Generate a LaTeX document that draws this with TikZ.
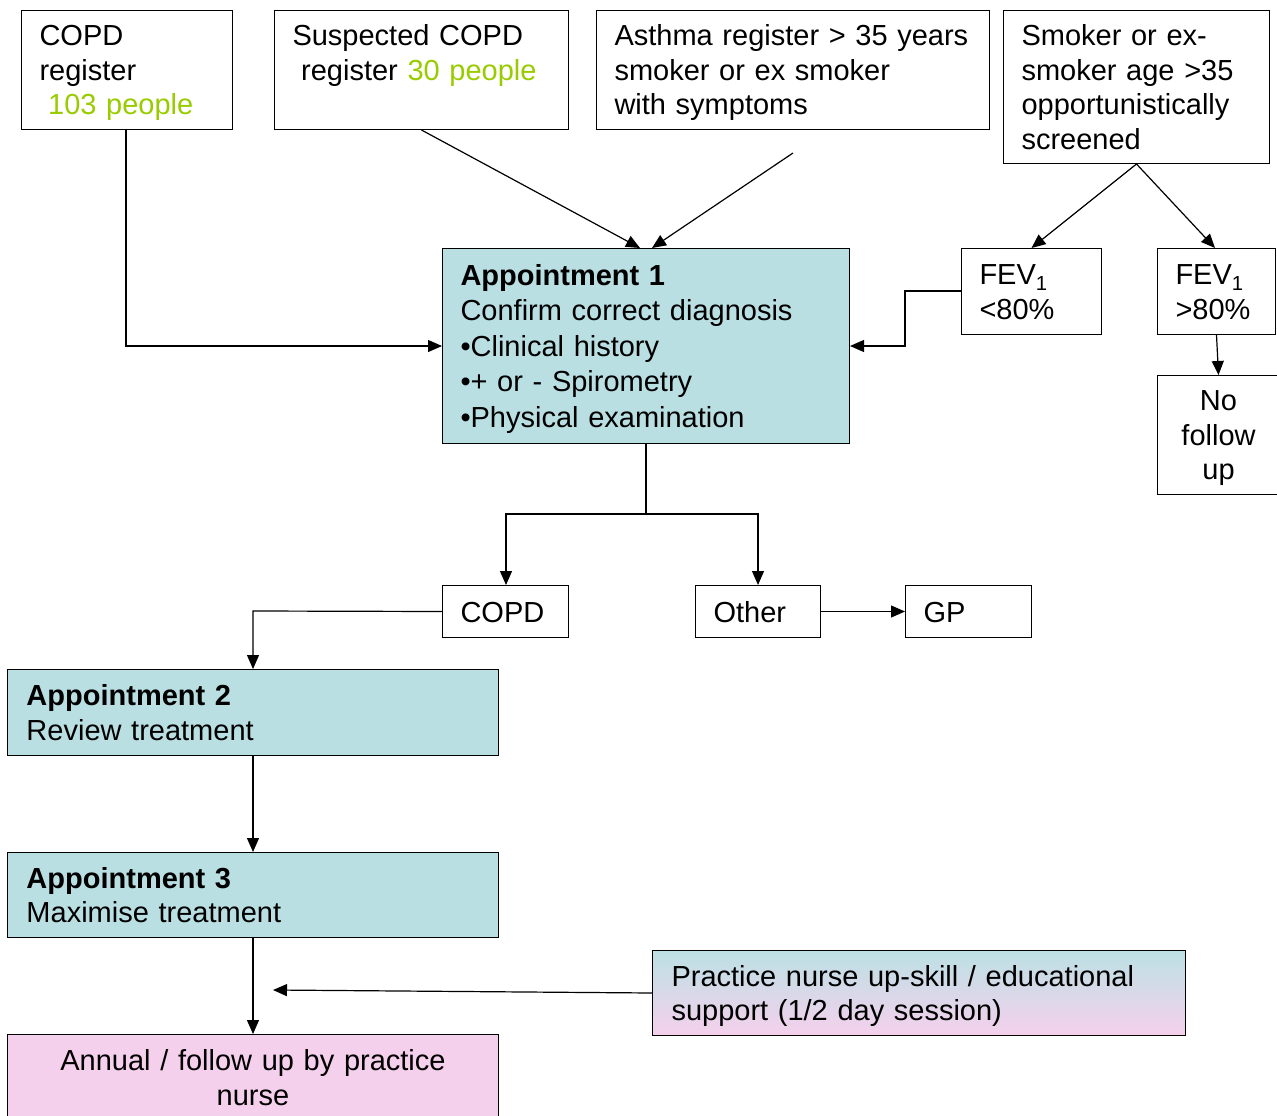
\documentclass[tikz,border=0pt]{standalone}
\usepackage{fontspec}
\setmainfont{Liberation Sans}
\usetikzlibrary{arrows.meta}
\definecolor{tealfill}{RGB}{185,223,227}
\definecolor{pinkfill}{RGB}{245,208,236}
\definecolor{numgreen}{RGB}{153,204,0}
\tikzset{
  box/.style={draw, line width=1pt, inner xsep=18pt, inner ysep=0pt, anchor=north west, align=left,
    font=\fontsize{29}{34.5}\selectfont,
    execute at begin node={\rule{0pt}{27pt}},
    execute at end node={\rule[-6pt]{0pt}{6pt}}},
  cbox/.style={box, align=center},
  conn/.style={line width=1.2pt, -{Triangle[length=14pt,width=12pt]}},
}
\begin{document}
\begin{tikzpicture}[x=1pt,y=-1pt]
\useasboundingbox (0,0) rectangle (1277,1116);
% top row
\node[box, text width=175pt, minimum height=119pt] (b1) at (21,10) {COPD\\register\\ \hspace*{0.3em}\textcolor{numgreen}{103 people}};
\node[box, text width=258pt, minimum height=119pt] (b2) at (274,10) {Suspected COPD\\ \hspace*{0.3em}register \textcolor{numgreen}{30 people}\\ \mbox{}};
\node[box, text width=357pt, minimum height=119pt] (b3) at (596,10) {Asthma register > 35 years\\smoker or ex smoker\\with symptoms};
\node[box, text width=230pt, minimum height=153pt] (b4) at (1003,10) {Smoker or ex-\\smoker age >35\\opportunistically\\screened};
% appointment 1
\node[box, fill=tealfill, text width=371pt, minimum height=195pt, font=\fontsize{29}{35.5}\selectfont] (a1) at (442,248)
  {\textbf{Appointment 1}\\Confirm correct diagnosis\\•Clinical history\\•+ or - Spirometry\\•Physical examination};
% FEV boxes
\node[box, text width=104pt, minimum height=86pt] (f1) at (961,248) {FEV\textsubscript{1}\\<80\%};
\node[box, text width=82pt, minimum height=86pt] (f2) at (1157,248) {FEV\textsubscript{1}\\>80\%};
\node[cbox, inner xsep=0pt, text width=122pt, minimum height=119pt] (nf) at (1157,375) {No\\follow\\up};
% outcome row
\node[box, text width=90pt, minimum height=52pt] (copd) at (442,585) {COPD};
\node[box, text width=89pt, minimum height=52pt] (oth) at (695,585) {Other};
\node[box, text width=90pt, minimum height=52pt] (gp) at (905,585) {GP};
% appointments 2, 3
\node[box, fill=tealfill, inner xsep=19pt, text width=453pt, minimum height=86pt] (a2) at (7,669) {\textbf{Appointment 2}\\Review treatment};
\node[box, fill=tealfill, inner xsep=19pt, text width=453pt, minimum height=85pt] (a3) at (7,852) {\textbf{Appointment 3}\\Maximise treatment};
\node[box, top color=tealfill!95!white, bottom color=pinkfill, inner xsep=19pt, text width=495pt, minimum height=85pt] (pn) at (652,950) {Practice nurse up-skill / educational\\support (1/2 day session)};
\node[cbox, fill=pinkfill, inner xsep=0pt, text width=491pt, minimum height=86pt] (an) at (7,1034) {Annual / follow up by practice\\nurse};
% connectors
\coordinate (asf) at (793,153);
\coordinate (pnend) at (273,990);
\draw[conn] (b1.south -| 126,0) -- (126,346) -- (a1.west |- 0,346);
\draw[conn] (b2.south) -- (640,248);
\draw[conn] (asf) -- (652,248);
\draw[conn] (b4.south) -- (f1.north);
\draw[conn] (b4.south) -- (1215,248);
\draw[conn] (f1.west |- 0,291) -- (905,291) -- (905,346) -- (a1.east |- 0,346);
\draw[conn] (f2.south) -- (nf.north);
\draw[line width=1.2pt] (a1.south -| 646,0) -- (646,514) coordinate (split);
\draw[conn] (split) -- (506,514) -- (506,585);
\draw[conn] (split) -- (758,514) -- (758,585);
\draw[conn] (copd.west) -- (253,611) -- (253,669);
\draw[conn] (oth.east) -- (gp.west);
\draw[conn] (a2.south -| 253,0) -- (a3.north -| 253,0);
\draw[conn] (a3.south -| 253,0) -- (an.north -| 253,0);
\draw[conn] (pn.west) -- (pnend);
\end{tikzpicture}
\end{document}
